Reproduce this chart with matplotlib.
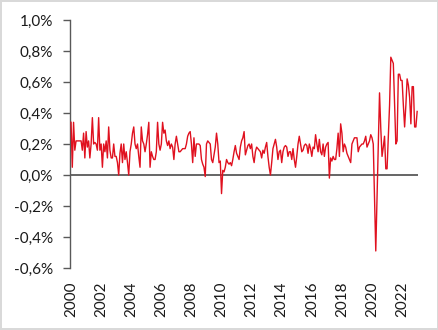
import numpy as np
import matplotlib
matplotlib.use("Agg")
import matplotlib.pyplot as plt
from matplotlib.ticker import FuncFormatter, MultipleLocator

# Monthly change, in percent, Jan 2000 - Jan 2023
y2000 = [0.34, 0.05, 0.34, 0.16, 0.22, 0.22, 0.22, 0.22, 0.22, 0.16, 0.27, 0.11]
y2001 = [0.28, 0.18, 0.22, 0.11, 0.20, 0.37, 0.20, 0.21, 0.20, 0.16, 0.37, 0.16]
y2002 = [0.20, 0.05, 0.20, 0.15, 0.22, 0.11, 0.31, 0.16, 0.11, 0.11, 0.20, 0.12]
y2003 = [0.12, 0.08, 0.00, 0.14, 0.20, 0.08, 0.20, 0.10, 0.15, 0.08, 0.00, 0.15]
y2004 = [0.20, 0.27, 0.31, 0.20, 0.17, 0.20, 0.12, 0.05, 0.31, 0.22, 0.20, 0.15]
y2005 = [0.20, 0.26, 0.34, 0.05, 0.15, 0.12, 0.10, 0.10, 0.15, 0.34, 0.20, 0.16]
y2006 = [0.20, 0.34, 0.27, 0.29, 0.22, 0.19, 0.22, 0.17, 0.20, 0.18, 0.10, 0.20]
y2007 = [0.25, 0.20, 0.15, 0.15, 0.16, 0.17, 0.17, 0.17, 0.20, 0.25, 0.27, 0.28]
y2008 = [0.20, 0.08, 0.24, 0.12, 0.20, 0.20, 0.20, 0.19, 0.10, 0.07, 0.05, -0.01]
y2009 = [0.20, 0.22, 0.21, 0.20, 0.10, 0.08, 0.13, 0.18, 0.27, 0.20, 0.08, 0.09]
y2010 = [-0.12, 0.03, 0.02, 0.05, 0.10, 0.08, 0.07, 0.08, 0.06, 0.10, 0.15, 0.19]
y2011 = [0.14, 0.12, 0.10, 0.18, 0.22, 0.24, 0.28, 0.13, 0.16, 0.19, 0.20, 0.17]
y2012 = [0.20, 0.12, 0.08, 0.15, 0.18, 0.17, 0.16, 0.15, 0.11, 0.16, 0.14, 0.18]
y2013 = [0.21, 0.12, 0.05, 0.00, 0.08, 0.17, 0.20, 0.23, 0.18, 0.10, 0.15, 0.16]
y2014 = [0.08, 0.15, 0.18, 0.19, 0.18, 0.12, 0.15, 0.15, 0.10, 0.17, 0.10, 0.05]
y2015 = [0.12, 0.20, 0.25, 0.20, 0.15, 0.16, 0.19, 0.20, 0.19, 0.14, 0.20, 0.17]
y2016 = [0.12, 0.18, 0.17, 0.26, 0.20, 0.15, 0.23, 0.15, 0.13, 0.20, 0.12, 0.18]
y2017 = [0.20, 0.21, -0.02, 0.11, 0.09, 0.12, 0.10, 0.10, 0.17, 0.27, 0.12, 0.33]
y2018 = [0.27, 0.15, 0.20, 0.18, 0.14, 0.12, 0.10, 0.08, 0.20, 0.22, 0.24, 0.24]
y2019 = [0.24, 0.15, 0.18, 0.19, 0.20, 0.20, 0.22, 0.25, 0.18, 0.20, 0.22, 0.26]
y2020 = [0.24, 0.20, -0.15, -0.49, -0.15, 0.19, 0.53, 0.30, 0.12, 0.18, 0.25, 0.04]
y2021 = [0.04, 0.25, 0.45, 0.76, 0.74, 0.72, 0.45, 0.20, 0.22, 0.65, 0.65, 0.61]
y2022 = [0.61, 0.45, 0.31, 0.45, 0.62, 0.58, 0.50, 0.33, 0.57, 0.57, 0.31, 0.31]
y2023 = [0.41]

years_shown = list(range(2000, 2023, 2))

values = np.array(
    y2000 + y2001 + y2002 + y2003 + y2004 + y2005 + y2006 + y2007 + y2008
    + y2009 + y2010 + y2011 + y2012 + y2013 + y2014 + y2015 + y2016 + y2017
    + y2018 + y2019 + y2020 + y2021 + y2022 + y2023
)
t = 2000 + np.arange(len(values)) / 12

plt.rcParams["font.family"] = ["Lato", "DejaVu Sans"]

W, H = 439, 330
fig = plt.figure(figsize=(W / 100, H / 100), dpi=100)
fig.patch.set_edgecolor("#d9d9d9")
fig.patch.set_linewidth(1.5)
ax = fig.add_axes([70 / W, 1 - 268 / H, 348 / W, 248 / H])

ax.plot(t, values, color="#e0111f", lw=1.0, zorder=3)
ax.axhline(0, color="#595959", lw=1.3, zorder=2)

ax.set_xlim(2000 - 0.07, 2000 + 347 / 15.05)
ax.set_ylim(-0.6, 1.0)
ax.yaxis.set_major_locator(MultipleLocator(0.2))
ax.yaxis.set_major_formatter(
    FuncFormatter(lambda v, _: f"{v:.1f}%".replace(".", ",").replace("−", "-"))
)
ax.set_xticks(years_shown)
ax.set_xticklabels([str(y) for y in years_shown], rotation=90)

for side in ("top", "right", "bottom"):
    ax.spines[side].set_visible(False)
ax.spines["left"].set_color("#595959")
ax.spines["left"].set_linewidth(1.0)

ax.tick_params(axis="y", direction="out", length=5, width=1, color="#595959",
               pad=7, labelsize=11, labelcolor="#1a1a1a")
ax.tick_params(axis="x", length=0, pad=10, labelsize=11, labelcolor="#1a1a1a")

fig.savefig("out.png", dpi=100, edgecolor=fig.get_edgecolor())
